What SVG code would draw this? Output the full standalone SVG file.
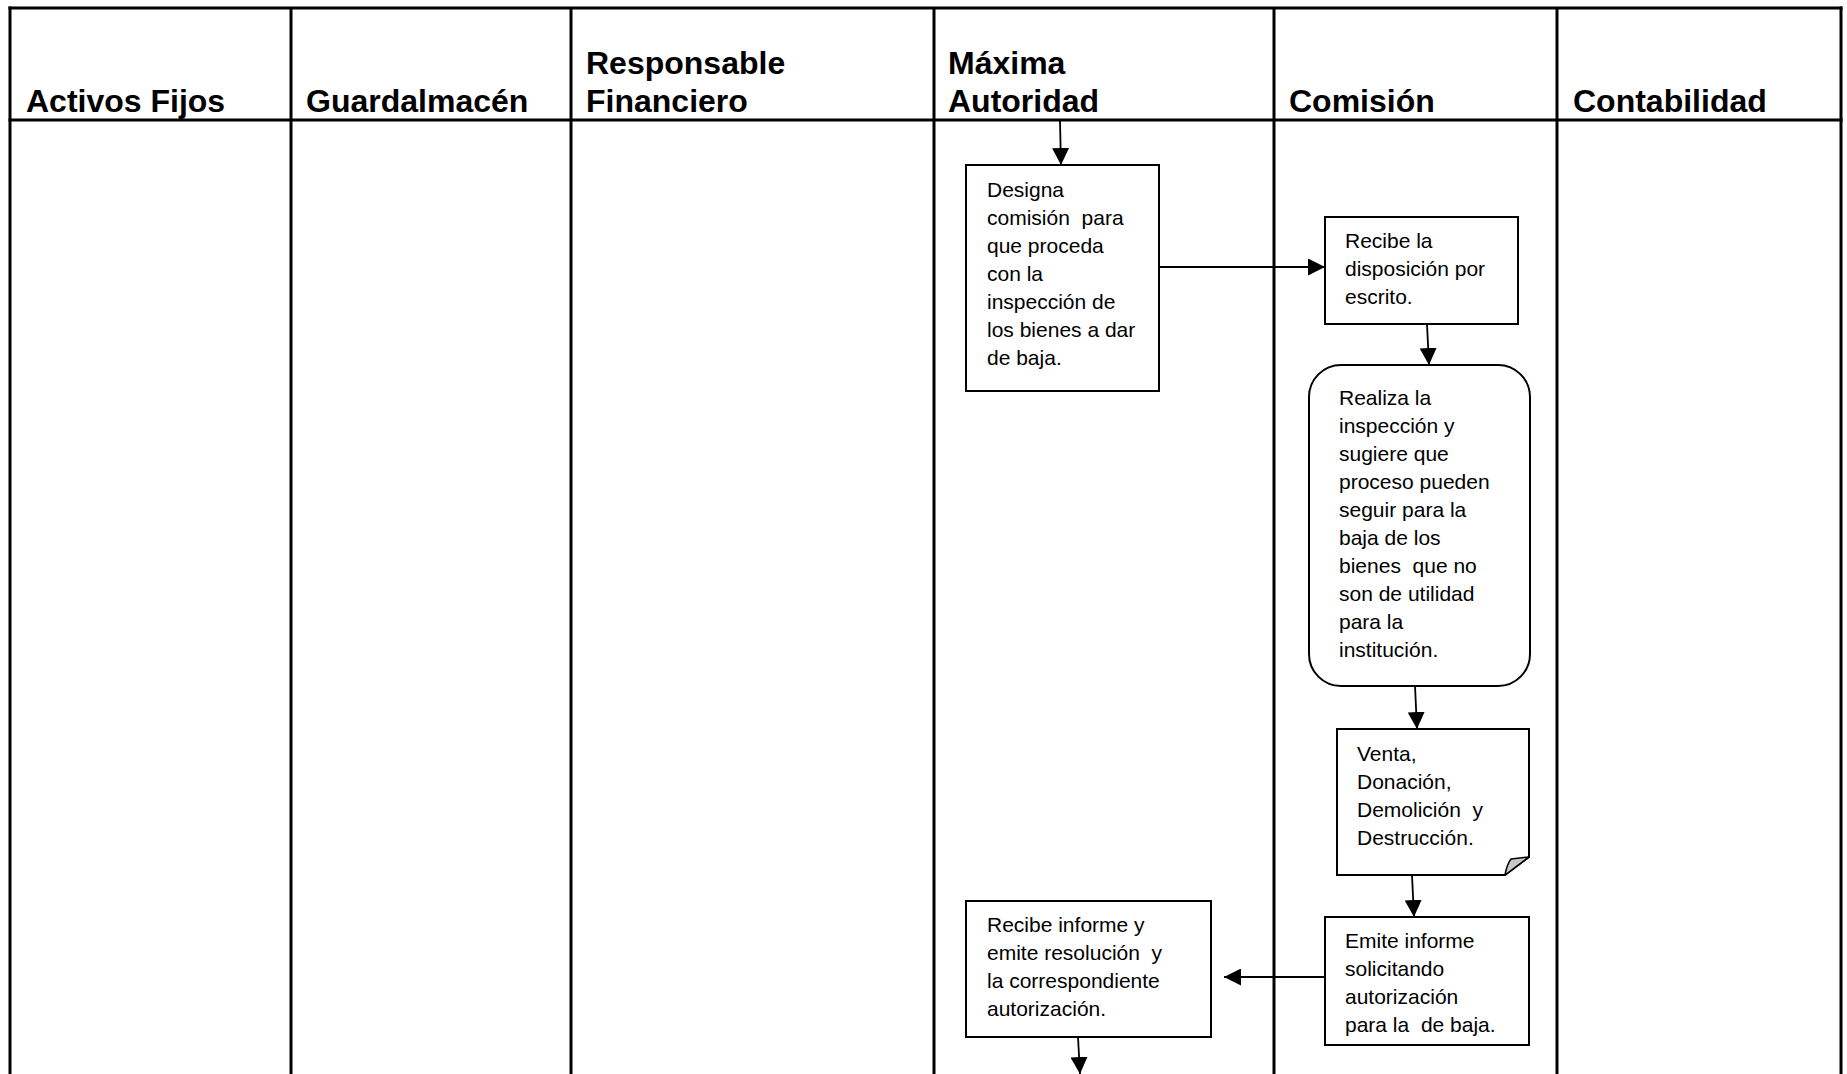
<svg xmlns="http://www.w3.org/2000/svg" width="1847" height="1074" viewBox="0 0 1847 1074">
  <style>
    .grid { stroke: #000; stroke-width: 3; fill: none; }
    .hdr { font-family: "Liberation Sans", Arial, sans-serif; font-weight: bold; font-size: 32px; fill: #000; }
    .box { fill: #fff; stroke: #000; stroke-width: 2; }
    .txt { font-family: "Liberation Sans", Arial, sans-serif; font-size: 21px; fill: #000; white-space: pre; }
    .conn { stroke: #000; stroke-width: 1.8; fill: none; marker-end: url(#arrow); }
  </style>
  <defs>
    <marker id="arrow" markerUnits="userSpaceOnUse" markerWidth="18" markerHeight="17" refX="17" refY="8.5" orient="auto">
      <path d="M0,0 L17,8.5 L0,17 Z" fill="#000"/>
    </marker>
  </defs>

  <rect width="1847" height="1074" fill="#fff"/>

  <!-- swimlane table -->
  <g id="lanes">
    <line class="grid" x1="8.5" y1="8" x2="1842.5" y2="8"/>
    <line class="grid" x1="8.5" y1="120" x2="1842.5" y2="120"/>
    <line class="grid" x1="10" y1="6.5" x2="10" y2="1074"/>
    <line class="grid" x1="291" y1="8" x2="291" y2="1074"/>
    <line class="grid" x1="571" y1="8" x2="571" y2="1074"/>
    <line class="grid" x1="934" y1="8" x2="934" y2="1074"/>
    <line class="grid" x1="1274" y1="8" x2="1274" y2="1074"/>
    <line class="grid" x1="1557" y1="8" x2="1557" y2="1074"/>
    <line class="grid" x1="1841" y1="6.5" x2="1841" y2="1074"/>
    <text class="hdr" x="26" y="112">Activos Fijos</text>
    <text class="hdr" x="306" y="112">Guardalmacén</text>
    <text class="hdr" x="586" y="74">Responsable</text>
    <text class="hdr" x="586" y="112">Financiero</text>
    <text class="hdr" x="948" y="74">Máxima</text>
    <text class="hdr" x="948" y="112">Autoridad</text>
    <text class="hdr" x="1289" y="112">Comisión</text>
    <text class="hdr" x="1573" y="112">Contabilidad</text>
  </g>

  <!-- connectors -->
  <g id="connectors">
    <line class="conn" x1="1060" y1="121" x2="1061" y2="165"/>
    <line class="conn" x1="1159" y1="267" x2="1325" y2="267"/>
    <line class="conn" x1="1427" y1="324" x2="1429" y2="365"/>
    <line class="conn" x1="1415" y1="686" x2="1417" y2="729"/>
    <line class="conn" x1="1412" y1="875" x2="1414" y2="917"/>
    <line class="conn" x1="1325" y1="977" x2="1224" y2="977"/>
    <line class="conn" x1="1078" y1="1037" x2="1080" y2="1074"/>
  </g>

  <g id="designa">
    <rect class="box" x="966" y="165" width="193" height="226"/>
    <text class="txt" xml:space="preserve"><tspan x="987" y="197">Designa</tspan><tspan x="987" y="225">comisión  para</tspan><tspan x="987" y="253">que proceda</tspan><tspan x="987" y="281">con la</tspan><tspan x="987" y="309">inspección de</tspan><tspan x="987" y="337">los bienes a dar</tspan><tspan x="987" y="365">de baja.</tspan></text>
  </g>

  <g id="recibe-disposicion">
    <rect class="box" x="1325" y="217" width="193" height="107"/>
    <text class="txt" xml:space="preserve"><tspan x="1345" y="248">Recibe la</tspan><tspan x="1345" y="276">disposición por</tspan><tspan x="1345" y="304">escrito.</tspan></text>
  </g>

  <g id="realiza-inspeccion">
    <rect class="box" x="1309" y="365" width="221" height="321" rx="32" ry="32"/>
    <text class="txt" xml:space="preserve"><tspan x="1339" y="405">Realiza la</tspan><tspan x="1339" y="433">inspección y</tspan><tspan x="1339" y="461">sugiere que</tspan><tspan x="1339" y="489">proceso pueden</tspan><tspan x="1339" y="517">seguir para la</tspan><tspan x="1339" y="545">baja de los</tspan><tspan x="1339" y="573">bienes  que no</tspan><tspan x="1339" y="601">son de utilidad</tspan><tspan x="1339" y="629">para la</tspan><tspan x="1339" y="657">institución.</tspan></text>
  </g>

  <g id="modalidades">
    <path class="box" d="M1337,729 H1529 V857 L1505,875 H1337 Z"/>
    <path d="M1505,875 Q1507,864 1511,859 L1529,857 Z" fill="#c8c8c8" stroke="#000" stroke-width="1.5" stroke-linejoin="round"/>
    <text class="txt" xml:space="preserve"><tspan x="1357" y="761">Venta,</tspan><tspan x="1357" y="789">Donación,</tspan><tspan x="1357" y="817">Demolición  y</tspan><tspan x="1357" y="845">Destrucción.</tspan></text>
  </g>

  <g id="emite-informe">
    <rect class="box" x="1325" y="917" width="204" height="128"/>
    <text class="txt" xml:space="preserve"><tspan x="1345" y="948">Emite informe</tspan><tspan x="1345" y="976">solicitando</tspan><tspan x="1345" y="1004">autorización</tspan><tspan x="1345" y="1032">para la  de baja.</tspan></text>
  </g>

  <g id="recibe-informe">
    <rect class="box" x="966" y="901" width="245" height="136"/>
    <text class="txt" xml:space="preserve"><tspan x="987" y="932">Recibe informe y</tspan><tspan x="987" y="960">emite resolución  y</tspan><tspan x="987" y="988">la correspondiente</tspan><tspan x="987" y="1016">autorización.</tspan></text>
  </g>
</svg>
